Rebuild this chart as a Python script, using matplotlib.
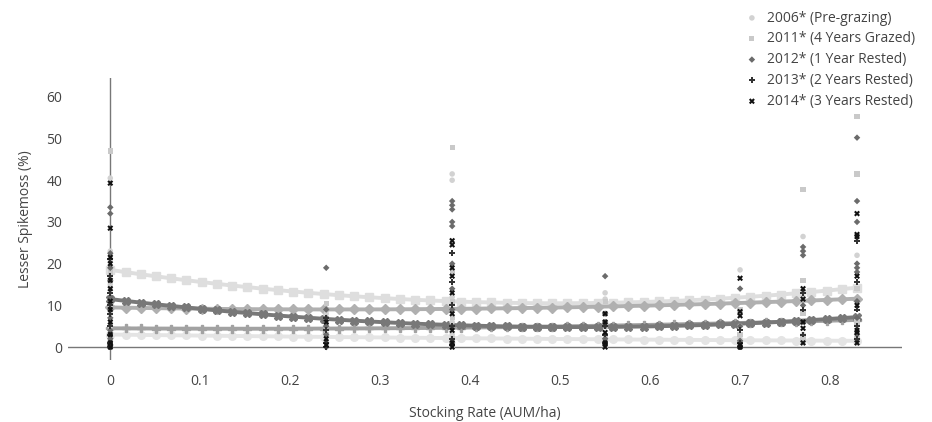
import numpy as np
import matplotlib
matplotlib.use("Agg")
import matplotlib.pyplot as plt

plt.rcParams['font.family'] = ['Open Sans', 'DejaVu Sans']

# stocking rates (AUM/ha) sampled in the field
rates = [0, 0.24, 0.38, 0.55, 0.70, 0.77, 0.83]

# cover values per stocking rate, one list per rate
cover_2006 = [[40.5, 23, 21, 15, 8, 5, 3, 1.5, 0.5, 0],
              [8, 5, 3, 1, 0],
              [41.5, 40, 12, 6, 3, 1, 0],
              [13, 11.5, 6, 2, 0.5],
              [18.5, 5, 2, 0.5],
              [26.5, 12, 3, 1],
              [22, 14, 6, 2, 1]]
cover_2011 = [[47, 22, 18, 14, 10, 6, 2, 0.5],
              [10.5, 6, 3, 0.5],
              [47.8, 18, 11, 7, 2, 0.5],
              [11, 5, 2, 0.5],
              [9, 3, 1],
              [37.8, 16, 8, 2],
              [55.3, 41.5, 14, 6, 2]]
cover_2012 = [[33.5, 32, 22.5, 19, 16, 12, 9, 7, 4, 2, 0.5],
              [19, 9, 7, 5, 3, 1, 0],
              [35, 34, 33, 30, 29, 20, 14, 9, 5, 1],
              [17, 8, 6, 5, 2],
              [14, 5, 1.5],
              [24, 23, 22, 10, 6],
              [50.2, 35, 30, 20, 19, 18, 11, 7, 3]]
cover_2013 = [[21, 17, 13, 10, 8, 5, 3, 1, 0],
              [7, 4, 1, 0],
              [22.5, 15.5, 10, 5, 2, 0.5],
              [5, 3, 1],
              [4, 1, 0],
              [13, 9, 3],
              [25.5, 15.5, 9, 5, 2]]
cover_2014 = [[39.3, 28.5, 21.5, 20, 16, 14, 11, 9, 6, 3, 1, 0],
              [6, 2, 0.5],
              [25.5, 24.5, 19, 17, 13, 8, 4, 1, 0],
              [8, 6, 3.5, 1, 0],
              [16.5, 8.5, 7.5, 0.5, 0],
              [14, 11.5, 6, 4.5, 1],
              [32, 27, 26.5, 17, 10, 4, 3.5, 1]]

# fitted trend lines, evaluated on 50 points from 0 to 0.83
trend_x = np.linspace(0, 0.83, 50)
trend_2006 = [3.00, 2.96, 2.91, 2.87, 2.83, 2.79, 2.75, 2.71, 2.67, 2.63,
              2.59, 2.55, 2.51, 2.47, 2.44, 2.40, 2.37, 2.33, 2.30, 2.26,
              2.23, 2.20, 2.16, 2.13, 2.10, 2.07, 2.04, 2.01, 1.98, 1.95,
              1.92, 1.90, 1.87, 1.84, 1.82, 1.79, 1.77, 1.74, 1.72, 1.70,
              1.67, 1.65, 1.63, 1.61, 1.59, 1.57, 1.55, 1.53, 1.51, 1.50]
trend_2011 = [18.50, 17.97, 17.45, 16.96, 16.48, 16.02, 15.58, 15.16, 14.75, 14.37,
              14.00, 13.65, 13.32, 13.01, 12.71, 12.44, 12.18, 11.94, 11.72, 11.52,
              11.33, 11.17, 11.02, 10.89, 10.78, 10.69, 10.61, 10.56, 10.52, 10.50,
              10.51, 10.53, 10.57, 10.63, 10.71, 10.81, 10.93, 11.06, 11.22, 11.40,
              11.60, 11.82, 12.06, 12.31, 12.59, 12.89, 13.20, 13.53, 13.89, 14.25]
trend_2012 = [9.50, 9.44, 9.38, 9.33, 9.28, 9.23, 9.19, 9.15, 9.12, 9.09,
              9.07, 9.05, 9.04, 9.03, 9.02, 9.02, 9.03, 9.03, 9.04, 9.06,
              9.08, 9.11, 9.14, 9.17, 9.21, 9.25, 9.30, 9.35, 9.41, 9.47,
              9.53, 9.60, 9.68, 9.75, 9.84, 9.92, 10.01, 10.11, 10.21, 10.31,
              10.42, 10.54, 10.65, 10.77, 10.90, 11.03, 11.17, 11.31, 11.45, 11.60]
trend_2013 = [4.50, 4.48, 4.46, 4.44, 4.43, 4.42, 4.41, 4.40, 4.40, 4.40,
              4.40, 4.40, 4.41, 4.42, 4.43, 4.45, 4.46, 4.48, 4.51, 4.53,
              4.56, 4.59, 4.62, 4.66, 4.70, 4.74, 4.78, 4.83, 4.88, 4.93,
              4.98, 5.04, 5.10, 5.16, 5.22, 5.29, 5.36, 5.43, 5.51, 5.58,
              5.66, 5.75, 5.83, 5.92, 6.01, 6.10, 6.20, 6.30, 6.40, 6.50]
trend_2014 = [11.50, 11.07, 10.66, 10.25, 9.87, 9.50, 9.14, 8.79, 8.46, 8.15,
              7.85, 7.56, 7.29, 7.03, 6.78, 6.55, 6.34, 6.13, 5.95, 5.77,
              5.61, 5.47, 5.34, 5.22, 5.12, 5.03, 4.96, 4.90, 4.85, 4.82,
              4.80, 4.80, 4.81, 4.84, 4.88, 4.93, 5.00, 5.08, 5.18, 5.29,
              5.42, 5.56, 5.71, 5.88, 6.06, 6.26, 6.47, 6.70, 6.94, 7.19]

labels = ['2006* (Pre-grazing)', '2011* (4 Years Grazed)', '2012* (1 Year Rested)',
          '2013* (2 Years Rested)', '2014* (3 Years Rested)']

series = [
    (cover_2006, trend_2006, 'o', '#d2d2d2', '#e4e4e4', 16),
    (cover_2011, trend_2011, 's', '#c9c9c9', '#dedede', 14),
    (cover_2012, trend_2012, 'D', '#6b6b6b', '#b0b0b0', 11),
    (cover_2013, trend_2013, 'P', '#333333', '#a2a2a2', 18),
    (cover_2014, trend_2014, 'X', '#111111', '#787878', 18),
]

FS = 10
TXT = '#444444'

fig = plt.figure(figsize=(9.32, 4.22), dpi=100)
ax = fig.add_axes([68 / 932, 1 - 360 / 422, 834 / 932, 282 / 422])

ax.axhline(0, color='#777777', lw=1, zorder=1)
ax.axvline(0, color='#777777', lw=1, zorder=1)

# trend lines first, points on top
for cover, trend, mk, c, lc, s in series:
    ax.plot(trend_x, trend, color=lc, lw=2.8, marker=mk, ms=5.5,
            mec=lc, mfc=lc, zorder=2)

handles = []
for (cover, trend, mk, c, lc, s), lab in zip(series, labels):
    xs = [r for r, vals in zip(rates, cover) for _ in vals]
    ys = [v for vals in cover for v in vals]
    h = ax.scatter(xs, ys, marker=mk, s=s, color=c, edgecolors='none',
                   label=lab, zorder=3)
    handles.append(h)

ax.set_xlim(-0.047, 0.88)
ax.set_ylim(-3.1, 64.5)
ax.set_xticks([0, 0.1, 0.2, 0.3, 0.4, 0.5, 0.6, 0.7, 0.8])
ax.set_xticklabels(['0', '0.1', '0.2', '0.3', '0.4', '0.5', '0.6', '0.7', '0.8'])
ax.set_yticks([0, 10, 20, 30, 40, 50, 60])
ax.tick_params(length=0, labelsize=FS, colors=TXT, pad=4)
ax.tick_params(axis='x', pad=10)
for sp in ax.spines.values():
    sp.set_visible(False)

ax.set_xlabel('Stocking Rate (AUM/ha)', fontsize=FS, color=TXT, labelpad=12)
ax.set_ylabel('Lesser Spikemoss (%)', fontsize=FS, color=TXT, labelpad=10)

fig.legend(handles=handles, loc='upper left', bbox_to_anchor=(738 / 932, 1 - 5 / 422),
           frameon=False, fontsize=FS, labelcolor=TXT, handletextpad=0.5,
           labelspacing=0.42, markerscale=1.0, handlelength=1.2, borderaxespad=0)

fig.savefig('out.png', dpi=100)
